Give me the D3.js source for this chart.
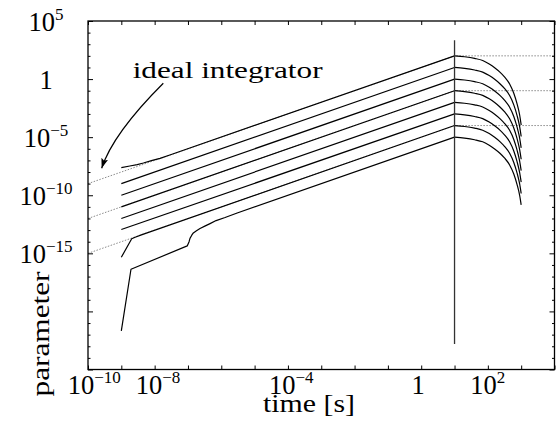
<!DOCTYPE html>
<html>
<head>
<meta charset="utf-8">
<script src="https://cdn.jsdelivr.net/npm/d3@7/dist/d3.min.js"></script>
<style>
  body { margin: 0; background: #fff; }
  svg { display: block; font-family: "Liberation Serif", "Times New Roman", serif; }
</style>
</head>
<body>
<svg width="559" height="430"></svg>
<script>
const svg = d3.select("svg");

// tick values (decades) and the labelled ones
const timeTickExps = [-10, -9, -8, -7, -6, -5, -4, -3, -2, -1, 0, 1, 2, 3, 4];
const timeLabelExps = [-10, -8, -4, 0, 2];
const paramTickExps = d3.range(-25, 6);
const paramLabelExps = [5, 0, -5, -10, -15];

// rising part of every curve: [time, log10(parameter)]
const rise0 = [[1e-9, -7.62], [1.8e-9, -7.48], [3e-9, -7.36], [4.6e-9, -7.22], [8e-9, -7.02], [1.45e-8, -6.82], [3e-8, -6.51], [10, 2]];
const rise1 = [[1e-9, -9], [10, 1]];
const rise2 = [[1e-9, -10], [10, 0]];
const rise3 = [[1e-9, -11], [10, -1]];
const rise4 = [[1e-9, -12], [10, -2]];
const rise5 = [[1e-9, -12.95], [10, -3]];
const rise6 = [[1e-9, -15.34], [2.05e-9, -13.75], [2.6e-9, -13.62], [4e-9, -13.41], [10, -4]];
const rise7 = [[1e-9, -21.68], [1.95e-9, -16.37], [9.5e-8, -14.36], [1.08e-7, -14.0], [1.15e-7, -13.71],
               [1.3e-7, -13.44], [1.45e-7, -13.24], [1.8e-7, -13.05], [2.3e-7, -12.86], [3.2e-7, -12.66],
               [4.6e-7, -12.44], [7e-7, -12.18], [1.3e-6, -11.92], [3e-6, -11.53], [10, -5]];

// decay after the input stops at t = 10 s, log10(parameter)
const decayTimes = [10, 20, 40, 70, 110, 160, 230, 320, 450, 600, 750, 900, 1000];
const decay0 = [2, 1.92, 1.78, 1.60, 1.30, 0.98, 0.60, 0.17, -0.42, -1.22, -2.12, -3.09, -3.95];
const decay1 = [1, 0.92, 0.78, 0.60, 0.30, -0.02, -0.40, -0.83, -1.42, -2.22, -3.12, -4.09, -4.94];
const decay2 = [0, -0.08, -0.22, -0.40, -0.70, -1.02, -1.40, -1.83, -2.42, -3.22, -4.12, -5.08, -5.92];
const decay3 = [-1, -1.08, -1.22, -1.40, -1.70, -2.02, -2.40, -2.83, -3.42, -4.21, -5.11, -6.07, -6.90];
const decay4 = [-2, -2.08, -2.22, -2.40, -2.70, -3.02, -3.40, -3.83, -4.41, -5.20, -6.10, -7.06, -7.88];
const decay5 = [-3, -3.08, -3.22, -3.40, -3.70, -4.02, -4.39, -4.82, -5.40, -6.19, -7.09, -8.05, -8.87];
const decay6 = [-4, -4.08, -4.22, -4.40, -4.69, -5.01, -5.38, -5.81, -6.39, -7.18, -8.07, -9.03, -9.85];
const decay7 = [-5, -5.08, -5.22, -5.40, -5.69, -6.01, -6.38, -6.81, -7.39, -8.17, -9.06, -10.01, -10.83];

// ideal integrator references (dotted)
const ideal0 = [[1e-10, -9], [10, 2], [1e4, 2]];
const ideal3 = [[1e-10, -12], [10, -1], [1e4, -1]];
const ideal6 = [[1e-10, -15], [10, -4], [1e4, -4]];

// input switched off at t = 10 s (vertical line), log10 range
const inputOff = { t: 10, from: -22.8, to: 3.35 };

const rises = [rise0, rise1, rise2, rise3, rise4, rise5, rise6, rise7];
const decays = [decay0, decay1, decay2, decay3, decay4, decay5, decay6, decay7];
const ideals = [ideal0, ideal3, ideal6];

const margin = { top: 21, right: 4.5, bottom: 60.5, left: 88 };
const width = 559, height = 430;

const x = d3.scaleLog().domain([1e-10, 1e4]).range([margin.left, width - margin.right]);
const y = d3.scaleLog().domain([1e-25, 1e5]).range([height - margin.bottom, margin.top]);

const straight = d3.line().x(d => x(d[0])).y(d => y(10 ** d[1]));
const smooth = d3.line().x(d => x(d[0])).y(d => y(10 ** d[1])).curve(d3.curveMonotoneX);

// dotted ideal integrators
svg.append("g")
    .selectAll("path")
    .data(ideals)
    .join("path")
    .attr("d", straight)
    .attr("fill", "none")
    .attr("stroke", "#8a8a8a")
    .attr("stroke-width", 1)
    .attr("stroke-dasharray", "1.5,1.5");

// curves
const curveGroup = svg.append("g")
    .attr("fill", "none")
    .attr("stroke", "#000")
    .attr("stroke-width", 1.2)
    .attr("stroke-linejoin", "round");

curveGroup.selectAll(".rise")
    .data(rises)
    .join("path")
    .attr("class", "rise")
    .attr("d", straight);

curveGroup.selectAll(".decay")
    .data(decays.map(vals => vals.map((v, i) => [decayTimes[i], v])))
    .join("path")
    .attr("class", "decay")
    .attr("d", smooth);

svg.append("line")
    .attr("x1", x(inputOff.t)).attr("x2", x(inputOff.t))
    .attr("y1", y(10 ** inputOff.from)).attr("y2", y(10 ** inputOff.to))
    .attr("stroke", "#333")
    .attr("stroke-width", 1.3);

// axes (ticks inward on all four sides)
const tickTimes = timeTickExps.map(e => 10 ** e);
const major = paramTickExps.filter(e => e % 5 === 0).map(e => 10 ** e);
const minor = paramTickExps.filter(e => e % 5 !== 0).map(e => 10 ** e);

const axes = svg.append("g").attr("class", "axes");
const addAxis = (axis, tx, ty) => axes.append("g")
    .attr("transform", `translate(${tx},${ty})`)
    .call(axis.tickFormat(""))
    .call(g => g.select(".domain").remove())
    .call(g => g.selectAll("line").attr("stroke", "#000").attr("stroke-width", 1));

addAxis(d3.axisBottom(x).tickValues(tickTimes).tickSize(-4), 0, y.range()[0]);
addAxis(d3.axisTop(x).tickValues(tickTimes).tickSize(-4), 0, y.range()[1]);
addAxis(d3.axisLeft(y).tickValues(major).tickSize(-5), x.range()[0], 0);
addAxis(d3.axisLeft(y).tickValues(minor).tickSize(-2.5), x.range()[0], 0);
addAxis(d3.axisRight(y).tickValues(major).tickSize(-5), x.range()[1], 0);
addAxis(d3.axisRight(y).tickValues(minor).tickSize(-2.5), x.range()[1], 0);

axes.append("rect")
    .attr("x", x.range()[0]).attr("y", y.range()[1])
    .attr("width", x.range()[1] - x.range()[0])
    .attr("height", y.range()[0] - y.range()[1])
    .attr("fill", "none")
    .attr("stroke", "#000")
    .attr("stroke-width", 1.3);

// power-of-ten labels
function powerLabel(sel, e) {
    if (e === 0) {
        sel.append("tspan").text("1");
        return;
    }
    sel.append("tspan").text("10");
    sel.append("tspan")
        .attr("font-size", 17)
        .attr("dy", -11)
        .text(e < 0 ? "\u2212" + (-e) : String(e));
}

const labels = svg.append("g").attr("font-size", 26.5).attr("fill", "#000");

timeLabelExps.forEach(e => {
    const supLen = e === 0 ? 0 : String(Math.abs(e)).length * 8.5 + (e < 0 ? 9.6 : 0);
    labels.append("text")
        .attr("x", x(10 ** e) + supLen * 0.35 - 3)
        .attr("y", y.range()[0] + 24.5)
        .attr("text-anchor", "middle")
        .call(powerLabel, e);
});

paramLabelExps.forEach(e => {
    labels.append("text")
        .attr("x", 46)
        .attr("y", y(10 ** e) + 9.5)
        .attr("text-anchor", "middle")
        .call(powerLabel, e);
});

// text stretched horizontally to the wide serif of the original
function wideText(cx, cy, rot, anchor, size, target, str) {
    const g = svg.append("g").attr("transform", `translate(${cx},${cy}) rotate(${rot})`);
    const t = g.append("text")
        .attr("text-anchor", anchor)
        .attr("font-size", size)
        .text(str);
    const k = target / t.node().getComputedTextLength();
    t.attr("transform", `scale(${k},1)`);
}

// axis titles
wideText(309, 411.5, 0, "middle", 24.5, 92, "time [s]");
wideText(48.5, 334, -90, "middle", 25, 125, "parameter");

// annotation
const note = { text: "ideal integrator", at: [10 ** -8.66, 1],
               from: [10 ** -7.74, 10 ** -0.36], ctrl: [10 ** -9.25, 10 ** -4.68], to: [10 ** -9.59, 10 ** -7.68] };

svg.append("defs").append("marker")
    .attr("id", "head")
    .attr("markerUnits", "userSpaceOnUse")
    .attr("markerWidth", 12).attr("markerHeight", 10)
    .attr("viewBox", "0 -5 12 10")
    .attr("refX", 10).attr("refY", 0)
    .attr("orient", "auto")
    .append("path")
    .attr("d", "M0,-3.5L10,0L0,3.5L2,0Z")
    .attr("fill", "#000");

svg.append("path")
    .attr("d", `M${x(note.from[0])},${y(note.from[1])}Q${x(note.ctrl[0])},${y(note.ctrl[1])} ${x(note.to[0])},${y(note.to[1])}`)
    .attr("fill", "none")
    .attr("stroke", "#000")
    .attr("stroke-width", 1.2)
    .attr("marker-end", "url(#head)");

wideText(x(note.at[0]), y(note.at[1]) - 1.5, 0, "start", 24, 190, note.text);
</script>
</body>
</html>
